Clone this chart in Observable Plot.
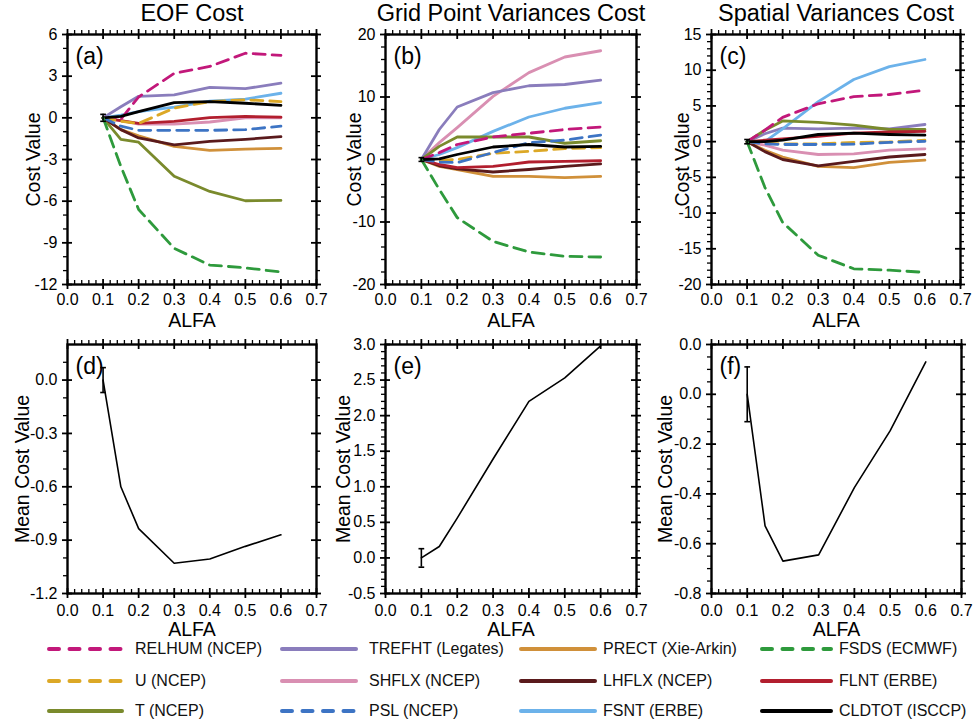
<!DOCTYPE html>
<html><head><meta charset="utf-8">
<script src="https://cdn.jsdelivr.net/npm/d3@7"></script>
<script src="https://cdn.jsdelivr.net/npm/@observablehq/plot@0.6"></script>
<style>
body{margin:0;background:#fff;font-family:"Liberation Sans",Arial,sans-serif;}
#root{position:relative;width:974px;height:722px;overflow:hidden;background:#fff;}
.panel{position:absolute;}
.leg{position:absolute;font-size:16px;color:#111;white-space:nowrap;line-height:18px;height:18px;}
.legline{position:absolute;}
</style></head><body><div id="root"></div>
<script>
// ---------------- DATA ----------------
const alfa = [0.1, 0.15, 0.2, 0.3, 0.4, 0.5, 0.6];
const seriesNames = ["RELHUM  (NCEP)", "U (NCEP)", "T (NCEP)", "TREFHT (Legates)", "SHFLX (NCEP)", "PSL (NCEP)",
  "PRECT (Xie-Arkin)", "LHFLX (NCEP)", "FSNT (ERBE)", "FSDS (ECMWF)", "FLNT (ERBE)", "CLDTOT (ISCCP)"];
// rows follow seriesNames, columns follow alfa
const eofCost = [
  [0, -0.1, 1.5, 3.2, 3.7, 4.65, 4.5],
  [0, -0.25, -0.4, 0.7, 1.17, 1.3, 1.17],
  [0, -1.55, -1.75, -4.2, -5.3, -5.97, -5.95],
  [0, 0.8, 1.55, 1.65, 2.2, 2.1, 2.5],
  [0, -0.2, -0.45, -0.45, -0.3, 0, 0],
  [0, -0.6, -0.9, -0.9, -0.9, -0.85, -0.6],
  [0, -0.85, -1.3, -2.05, -2.35, -2.25, -2.2],
  [0, -0.85, -1.45, -1.95, -1.7, -1.55, -1.35],
  [0, 0.2, 0.45, 0.77, 1.2, 1.35, 1.77],
  [0, -3.5, -6.6, -9.4, -10.6, -10.8, -11.1],
  [0, -0.2, -0.4, -0.25, 0.02, 0.1, 0.05],
  [0, 0.1, 0.45, 1.1, 1.17, 1.05, 0.9]
];
const gridPointCost = [
  [0, 1.1, 2.4, 3.6, 4.2, 4.8, 5.2],
  [0, -0.1, 0.0, 1.0, 1.3, 1.75, 1.9],
  [0, 2.1, 3.6, 3.6, 3.6, 2.6, 3.0],
  [0, 4.8, 8.4, 10.7, 11.8, 12.0, 12.7],
  [0, 2.7, 5.1, 10.1, 13.9, 16.4, 17.4],
  [0, -0.4, -0.5, 1.1, 2.7, 3.1, 3.9],
  [0, -1.1, -1.6, -2.7, -2.7, -2.9, -2.7],
  [0, -1.0, -1.5, -2.0, -1.6, -1.1, -0.7],
  [0, 0.8, 1.9, 4.5, 6.8, 8.2, 9.1],
  [0, -4.8, -9.3, -13.1, -14.8, -15.5, -15.6],
  [0, -0.8, -1.3, -1.1, -0.4, -0.3, -0.2],
  [0, 0.1, 0.8, 2.0, 2.4, 2.0, 2.1]
];
const spatialCost = [
  [0, 1.6, 3.4, 5.3, 6.3, 6.6, 7.2],
  [0, -0.2, -0.3, -0.3, -0.1, -0.05, 0.2],
  [0, 1.6, 2.9, 2.7, 2.3, 1.7, 1.7],
  [0, 1.1, 1.9, 1.8, 1.9, 1.8, 2.4],
  [0, -0.5, -1.2, -1.8, -1.7, -1.2, -1.0],
  [0, -0.3, -0.4, -0.4, -0.35, -0.1, 0.05],
  [0, -1.2, -2.15, -3.45, -3.65, -2.9, -2.6],
  [0, -1.4, -2.5, -3.4, -2.75, -2.15, -1.8],
  [0, 0, 1.8, 5.6, 8.7, 10.5, 11.5],
  [0, -6.4, -11.3, -15.9, -17.8, -18.0, -18.3],
  [0, 0.2, 0.4, 0.75, 1.2, 1.35, 1.45],
  [0, 0, 0.2, 1.0, 1.2, 1.0, 0.9]
];
const eofMean = [0, -0.6, -0.835, -1.03, -1.006, -0.935, -0.87];
const gridPointMean = [0, 0.16, 0.56, 1.39, 2.2, 2.53, 2.98];
const spatialMean = [0, -0.528, -0.67, -0.645, -0.375, -0.147, 0.13];
const costErr = [0.25, 0.3, 0.3];
const meanErr = [0.07, 0.13, 0.11];

const titles = ["EOF Cost", "Grid Point Variances Cost", "Spatial Variances Cost"];
const tags = ["(a)", "(b)", "(c)", "(d)", "(e)", "(f)"];
const xTicks = [0, 0.1, 0.2, 0.3, 0.4, 0.5, 0.6, 0.7];
const xTickLabels = ["0.0", "0.1", "0.2", "0.3", "0.4", "0.5", "0.6", "0.7"];
const aTicks = [-12, -9, -6, -3, 0, 3, 6];
const aTickLabels = ["-12", "-9", "-6", "-3", "0", "3", "6"];
const bTicks = [-20, -10, 0, 10, 20];
const bTickLabels = ["-20", "-10", "0", "10", "20"];
const cTicks = [-20, -15, -10, -5, 0, 5, 10, 15];
const cTickLabels = ["-20", "-15", "-10", "-5", "0", "5", "10", "15"];
const dTicks = [-1.2, -0.9, -0.6, -0.3, 0.0];
const dTickLabels = ["-1.2", "-0.9", "-0.6", "-0.3", "0.0"];
const eTicks = [-0.5, 0, 0.5, 1.0, 1.5, 2.0, 2.5, 3.0];
const eTickLabels = ["-0.5", "0.0", "0.5", "1.0", "1.5", "2.0", "2.5", "3.0"];
const fTicks = [-0.8, -0.6, -0.4, -0.2, 0.0, 0.2];
const fTickLabels = ["-0.8", "-0.6", "-0.4", "-0.2", "0.0", "0.0"];

// ---------------- STYLES ----------------
const colors = ["#C2187A", "#DCA826", "#7A8A2C", "#8A7DBC", "#D98FB2", "#3D74C4",
  "#D0903A", "#5A1A1C", "#6CB2EA", "#2E9A3C", "#B21E2E", "#000000"];
const dashed = [true, true, false, false, false, true, false, false, false, true, false, false];
const drawOrder = [4, 3, 8, 2, 6, 7, 10, 0, 1, 5, 11, 9];
const font = "'Liberation Sans', Arial, sans-serif";
const root = document.getElementById("root");

function panel(o) {
  const ml = 70, mr = 20, mt = 34, mb = 50;
  const W = o.W, H = o.H;
  const xMinor = d3.range(0, 0.7001, 0.02).filter(v => Math.abs(v * 10 - Math.round(v * 10)) > 1e-6);
  const yMinor = d3.range(o.yDom[0], o.yDom[1] + 1e-9, o.minorStep)
    .filter(v => !o.yTicks.some(t => Math.abs(t - v) < 1e-6) && v > o.yDom[0] + 1e-9 && v < o.yDom[1] - 1e-9);
  const marks = [];
  // ticks
  marks.push(Plot.tickX(xMinor, {x: d => d, insetTop: H - 4, insetBottom: 0, strokeWidth: 1.3}));
  marks.push(Plot.tickX(xMinor, {x: d => d, insetTop: -4, insetBottom: H, strokeWidth: 1.3}));
  marks.push(Plot.tickX(xTicks, {x: d => d, insetTop: H - 5, insetBottom: -5, strokeWidth: 1.8}));
  marks.push(Plot.tickX(xTicks, {x: d => d, insetTop: -5, insetBottom: H - 5, strokeWidth: 1.8}));
  marks.push(Plot.tickY(yMinor, {y: d => d, insetLeft: -4, insetRight: W, strokeWidth: 1.3}));
  marks.push(Plot.tickY(yMinor, {y: d => d, insetLeft: W, insetRight: -4, strokeWidth: 1.3}));
  marks.push(Plot.tickY(o.yTicks, {y: d => d, insetLeft: -5, insetRight: W - 5, strokeWidth: 1.8}));
  marks.push(Plot.tickY(o.yTicks, {y: d => d, insetLeft: W - 5, insetRight: -5, strokeWidth: 1.8}));
  // series
  if (o.series) {
    for (const i of drawOrder) {
      const rows = alfa.map((a, j) => ({alfa: a, v: o.series[i][j]}));
      marks.push(Plot.line(rows, {x: "alfa", y: "v", stroke: colors[i], strokeWidth: 2.8,
        strokeDasharray: dashed[i] ? "12,7" : null}));
    }
  }
  if (o.mean) {
    const rows = alfa.map((a, j) => ({alfa: a, v: o.mean[j]}));
    marks.push(Plot.line(rows, {x: "alfa", y: "v", stroke: "black", strokeWidth: 1.6}));
  }
  // error bar at first alfa
  const v0 = o.series ? 0 : o.mean[0];
  const cap = 0.008;
  marks.push(Plot.ruleX([alfa[0]], {x: d => d, y1: v0 - o.err, y2: v0 + o.err, stroke: "black", strokeWidth: 1.6}));
  marks.push(Plot.link([-o.err, o.err], {x1: alfa[0] - cap, x2: alfa[0] + cap, y1: d => v0 + d, y2: d => v0 + d,
    stroke: "black", strokeWidth: 1.6}));
  marks.push(Plot.frame({stroke: "black", strokeWidth: 2.4}));
  // tick labels
  marks.push(Plot.text(xTicks, {x: d => d, frameAnchor: "bottom", dy: o.xLabDy, text: (d, i) => xTickLabels[i],
    fontSize: 16, textAnchor: "middle", lineAnchor: "middle"}));
  marks.push(Plot.text(o.yTicks, {y: d => d, frameAnchor: "left", dx: -10, textAnchor: "end",
    text: (d, i) => o.yLabels[i], fontSize: 16, lineAnchor: "middle"}));
  // axis titles
  marks.push(Plot.text(["ALFA"], {frameAnchor: "bottom", dy: o.alfaDy, text: d => d, fontSize: 19.5,
    textAnchor: "middle", lineAnchor: "middle"}));
  marks.push(Plot.text([o.ylabel], {frameAnchor: "left", dx: o.ylabDx, rotate: -90, text: d => d, fontSize: 19.5,
    textAnchor: "middle", lineAnchor: "middle"}));
  marks.push(Plot.text([o.tag], {frameAnchor: "top-left", dx: 8, dy: 22, text: d => d, fontSize: 23,
    textAnchor: "start", lineAnchor: "middle"}));
  if (o.title) marks.push(Plot.text([o.title], {frameAnchor: "top", dy: -21, text: d => d, fontSize: 23.5,
    textAnchor: "middle", lineAnchor: "middle"}));
  const chart = Plot.plot({
    width: ml + W + mr, height: mt + H + mb,
    marginLeft: ml, marginRight: mr, marginTop: mt, marginBottom: mb,
    x: {domain: [0, 0.7], axis: null},
    y: {domain: o.yDom, axis: null},
    style: {background: "transparent", fontFamily: font, color: "black", overflow: "visible"},
    marks
  });
  chart.classList.add("panel");
  chart.style.left = (o.L - ml) + "px";
  chart.style.top = (o.T - mt) + "px";
  chart.style.maxWidth = "none";
  root.appendChild(chart);
}

const topT = 34, topH = 250, botT = 344, botH = 249;
panel({L: 67, T: topT, W: 249, H: topH, yDom: [-12, 6], yTicks: aTicks, yLabels: aTickLabels, minorStep: 1,
  series: eofCost, err: costErr[0], title: titles[0], ylabel: "Cost Value", ylabDx: -34, tag: tags[0], xLabDy: 15, alfaDy: 36});
panel({L: 385, T: topT, W: 251, H: topH, yDom: [-20, 20], yTicks: bTicks, yLabels: bTickLabels, minorStep: 2,
  series: gridPointCost, err: costErr[1], title: titles[1], ylabel: "Cost Value", ylabDx: -31, tag: tags[1], xLabDy: 15, alfaDy: 36});
panel({L: 711, T: topT, W: 249, H: topH, yDom: [-20, 15], yTicks: cTicks, yLabels: cTickLabels, minorStep: 1,
  series: spatialCost, err: costErr[2], title: titles[2], ylabel: "Cost Value", ylabDx: -29, tag: tags[2], xLabDy: 15, alfaDy: 36});
panel({L: 67, T: botT, W: 249, H: botH, yDom: [-1.2, 0.2], yTicks: dTicks, yLabels: dTickLabels, minorStep: 0.1,
  mean: eofMean, err: meanErr[0], ylabel: "Mean Cost Value", ylabDx: -45, tag: tags[3], xLabDy: 17, alfaDy: 36});
panel({L: 385, T: botT, W: 251, H: botH, yDom: [-0.5, 3.0], yTicks: eTicks, yLabels: eTickLabels, minorStep: 0.1,
  mean: gridPointMean, err: meanErr[1], ylabel: "Mean Cost Value", ylabDx: -42, tag: tags[4], xLabDy: 17, alfaDy: 36});
panel({L: 711, T: botT, W: 250, H: botH, yDom: [-0.8, 0.2], yTicks: fTicks, yLabels: fTickLabels, minorStep: 0.05,
  mean: spatialMean, err: meanErr[2], ylabel: "Mean Cost Value", ylabDx: -46, tag: tags[5], xLabDy: 17, alfaDy: 36});

// ---------------- LEGEND ----------------
const legCols = [{x0: 47, w: 77, tx: 135}, {x0: 280, w: 78, tx: 369}, {x0: 519, w: 78, tx: 603}, {x0: 760, w: 73, tx: 839}];
const legRows = [649, 681, 711];
seriesNames.forEach((name, i) => {
  const c = legCols[Math.floor(i / 3)], r = legRows[i % 3];
  const svg = d3.create("svg").attr("class", "legline").attr("width", c.w).attr("height", 8)
    .style("left", c.x0 + "px").style("top", (r - 4) + "px");
  svg.append("line").attr("x1", 2).attr("x2", c.w - 2).attr("y1", 4).attr("y2", 4)
    .attr("stroke", colors[i]).attr("stroke-width", 4).attr("stroke-linecap", "round")
    .attr("stroke-dasharray", dashed[i] ? "10,10.5" : null);
  root.appendChild(svg.node());
  const t = document.createElement("div");
  t.className = "leg";
  t.style.left = c.tx + "px";
  t.style.top = (r - 9) + "px";
  t.textContent = name;
  root.appendChild(t);
});
</script></body></html>
